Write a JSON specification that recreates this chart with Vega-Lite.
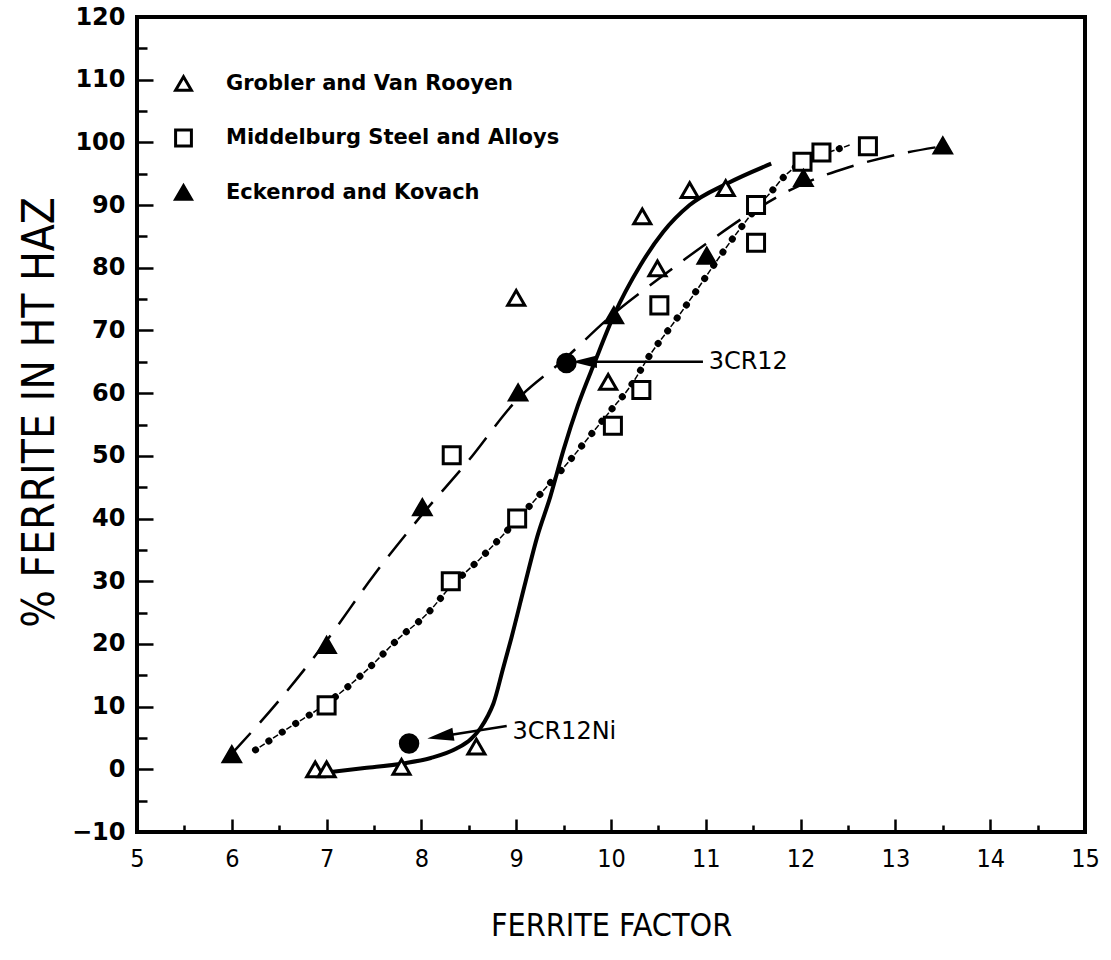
{
  "$schema": "https://vega.github.io/schema/vega-lite/v6.json",
  "width": 948,
  "height": 815,
  "autosize": {"type": "none"},
  "padding": {"left": 137, "top": 17, "right": 26, "bottom": 128},
  "background": "white",
  "config": {
    "view": {"stroke": "black", "strokeWidth": 4},
    "axis": {"domain": false, "grid": false, "tickColor": "black", "tickWidth": 2.5, "labelColor": "black", "titleColor": "black"}
  },
  "resolve": {"axis": {"x": "independent", "y": "independent"}},
  "datasets": {
    "curves": [
      {"curve": "solid", "x": 7.0, "y": -0.5}, {"curve": "solid", "x": 7.4, "y": 0.2}, {"curve": "solid", "x": 7.79, "y": 0.9},
      {"curve": "solid", "x": 8.1, "y": 1.8}, {"curve": "solid", "x": 8.37, "y": 3.3}, {"curve": "solid", "x": 8.52, "y": 4.8},
      {"curve": "solid", "x": 8.62, "y": 6.5}, {"curve": "solid", "x": 8.7, "y": 8.5}, {"curve": "solid", "x": 8.76, "y": 10.5},
      {"curve": "solid", "x": 8.86, "y": 16}, {"curve": "solid", "x": 8.95, "y": 21}, {"curve": "solid", "x": 9.1, "y": 30},
      {"curve": "solid", "x": 9.22, "y": 37}, {"curve": "solid", "x": 9.36, "y": 43.5}, {"curve": "solid", "x": 9.5, "y": 51},
      {"curve": "solid", "x": 9.65, "y": 58}, {"curve": "solid", "x": 9.83, "y": 65}, {"curve": "solid", "x": 10.03, "y": 72.4},
      {"curve": "solid", "x": 10.31, "y": 80.4}, {"curve": "solid", "x": 10.55, "y": 85.7}, {"curve": "solid", "x": 10.83, "y": 90},
      {"curve": "solid", "x": 11.22, "y": 93.4}, {"curve": "solid", "x": 11.69, "y": 96.6},
      {"curve": "dashed", "x": 6.0, "y": 2.5}, {"curve": "dashed", "x": 6.5, "y": 11}, {"curve": "dashed", "x": 7.0, "y": 20.5},
      {"curve": "dashed", "x": 7.5, "y": 31}, {"curve": "dashed", "x": 8.0, "y": 40.5}, {"curve": "dashed", "x": 8.5, "y": 49.3},
      {"curve": "dashed", "x": 9.0, "y": 58.8}, {"curve": "dashed", "x": 9.5, "y": 65.3}, {"curve": "dashed", "x": 10.0, "y": 72.3},
      {"curve": "dashed", "x": 10.5, "y": 78.2}, {"curve": "dashed", "x": 11.0, "y": 83.8}, {"curve": "dashed", "x": 11.5, "y": 89},
      {"curve": "dashed", "x": 12.0, "y": 93.2}, {"curve": "dashed", "x": 12.5, "y": 96}, {"curve": "dashed", "x": 13.0, "y": 98},
      {"curve": "dashed", "x": 13.5, "y": 99.4},
      {"curve": "dotted", "x": 6.25, "y": 3.1}, {"curve": "dotted", "x": 6.6, "y": 6.6}, {"curve": "dotted", "x": 7.0, "y": 10.5},
      {"curve": "dotted", "x": 7.4, "y": 15.5}, {"curve": "dotted", "x": 7.77, "y": 21}, {"curve": "dotted", "x": 8.06, "y": 24.8},
      {"curve": "dotted", "x": 8.3, "y": 29}, {"curve": "dotted", "x": 8.62, "y": 33.6}, {"curve": "dotted", "x": 8.9, "y": 38},
      {"curve": "dotted", "x": 9.2, "y": 43}, {"curve": "dotted", "x": 9.55, "y": 49}, {"curve": "dotted", "x": 9.8, "y": 53.6},
      {"curve": "dotted", "x": 10.0, "y": 57.3}, {"curve": "dotted", "x": 10.2, "y": 61}, {"curve": "dotted", "x": 10.42, "y": 66.3},
      {"curve": "dotted", "x": 10.66, "y": 71.2}, {"curve": "dotted", "x": 10.89, "y": 76.1}, {"curve": "dotted", "x": 11.12, "y": 81.2},
      {"curve": "dotted", "x": 11.35, "y": 86}, {"curve": "dotted", "x": 11.55, "y": 89.8}, {"curve": "dotted", "x": 11.7, "y": 92.3},
      {"curve": "dotted", "x": 11.83, "y": 94.6}, {"curve": "dotted", "x": 12.0, "y": 96.6}, {"curve": "dotted", "x": 12.2, "y": 98},
      {"curve": "dotted", "x": 12.35, "y": 98.7}, {"curve": "dotted", "x": 12.56, "y": 99.8}
    ],
    "points": [
      {"series": "Grobler and Van Rooyen", "x": 6.88, "y": 0}, {"series": "Grobler and Van Rooyen", "x": 7.0, "y": 0},
      {"series": "Grobler and Van Rooyen", "x": 7.79, "y": 0.4}, {"series": "Grobler and Van Rooyen", "x": 8.58, "y": 3.6},
      {"series": "Grobler and Van Rooyen", "x": 9.0, "y": 75.2}, {"series": "Grobler and Van Rooyen", "x": 9.97, "y": 61.8},
      {"series": "Grobler and Van Rooyen", "x": 10.33, "y": 88.2}, {"series": "Grobler and Van Rooyen", "x": 10.49, "y": 79.9},
      {"series": "Grobler and Van Rooyen", "x": 10.83, "y": 92.4}, {"series": "Grobler and Van Rooyen", "x": 11.21, "y": 92.7},
      {"series": "Middelburg Steel and Alloys", "x": 7.0, "y": 10.2}, {"series": "Middelburg Steel and Alloys", "x": 8.31, "y": 30},
      {"series": "Middelburg Steel and Alloys", "x": 8.32, "y": 50.1}, {"series": "Middelburg Steel and Alloys", "x": 9.01, "y": 40},
      {"series": "Middelburg Steel and Alloys", "x": 10.02, "y": 54.8}, {"series": "Middelburg Steel and Alloys", "x": 10.32, "y": 60.5},
      {"series": "Middelburg Steel and Alloys", "x": 10.51, "y": 74}, {"series": "Middelburg Steel and Alloys", "x": 11.53, "y": 84},
      {"series": "Middelburg Steel and Alloys", "x": 11.53, "y": 90}, {"series": "Middelburg Steel and Alloys", "x": 12.02, "y": 96.9},
      {"series": "Middelburg Steel and Alloys", "x": 12.22, "y": 98.4}, {"series": "Middelburg Steel and Alloys", "x": 12.71, "y": 99.4},
      {"series": "Eckenrod and Kovach", "x": 6.0, "y": 2.4}, {"series": "Eckenrod and Kovach", "x": 7.0, "y": 19.8},
      {"series": "Eckenrod and Kovach", "x": 8.01, "y": 41.8}, {"series": "Eckenrod and Kovach", "x": 9.02, "y": 60.1},
      {"series": "Eckenrod and Kovach", "x": 10.03, "y": 72.4}, {"series": "Eckenrod and Kovach", "x": 11.01, "y": 81.9},
      {"series": "Eckenrod and Kovach", "x": 12.03, "y": 94.3}, {"series": "Eckenrod and Kovach", "x": 13.5, "y": 99.5}
    ],
    "alloys": [
      {"alloy": "3CR12", "x": 9.53, "y": 64.8},
      {"alloy": "3CR12Ni", "x": 7.87, "y": 4.1}
    ],
    "arrows": [
      {"alloy": "3CR12", "x": 9.72, "y": 65, "x2": 10.97, "y2": 65},
      {"alloy": "3CR12Ni", "x": 8.2, "y": 5.25, "x2": 8.9, "y2": 6.9}
    ],
    "labels": [
      {"text": "3CR12", "x": 11.03, "y": 65},
      {"text": "3CR12Ni", "x": 8.96, "y": 6.0}
    ]
  },
  "encoding": {
    "x": {"field": "x", "type": "quantitative", "scale": {"domain": [5, 15], "nice": false, "zero": false}, "axis": null},
    "y": {"field": "y", "type": "quantitative", "scale": {"domain": [-10, 120], "nice": false, "zero": false}, "axis": null}
  },
  "layer": [
    {
      "data": {"name": "curves"},
      "transform": [{"filter": "datum.curve === 'dashed'"}],
      "mark": {"type": "line", "color": "black", "strokeWidth": 2.5, "strokeDash": [28, 14], "interpolate": "monotone"},
      "encoding": {
        "x": {
          "field": "x", "type": "quantitative", "scale": {"domain": [5, 15], "nice": false, "zero": false},
          "axis": {
            "orient": "bottom",
            "values": [5, 6, 7, 8, 9, 10, 11, 12, 13, 14, 15],
            "format": "d",
            "ticks": false,
            "tickSize": 0,
            "labelPadding": 14,
            "labelFont": "DejaVu Sans Condensed, DejaVu Sans",
            "labelFontSize": 25,
            "labelFlush": false,
            "title": "FERRITE FACTOR",
            "titleFont": "DejaVu Sans Condensed, DejaVu Sans",
            "titleFontSize": 32,
            "titleFontWeight": "normal",
            "titleX": 474,
            "titleY": 93,
            "titleBaseline": "middle"
          }
        },
        "y": {
          "field": "y", "type": "quantitative", "scale": {"domain": [-10, 120], "nice": false, "zero": false},
          "axis": {
            "orient": "left",
            "values": [-10, 0, 10, 20, 30, 40, 50, 60, 70, 80, 90, 100, 110, 120],
            "ticks": false,
            "tickSize": 0,
            "labelPadding": 12,
            "labelFont": "DejaVu Sans",
            "labelFontSize": 24,
            "labelFontWeight": "bold",
            "labelFlush": false,
            "title": "% FERRITE IN HT HAZ",
            "titleFont": "DejaVu Sans Condensed, DejaVu Sans",
            "titleFontSize": 44,
            "titleFontWeight": "normal",
            "titleX": -97,
            "titleY": 395,
            "titleBaseline": "middle"
          }
        }
      }
    },
    {
      "data": {"name": "curves"},
      "transform": [{"filter": "datum.curve === 'dotted'"}],
      "mark": {"type": "line", "color": "black", "strokeWidth": 1.5, "strokeDash": [6, 10], "strokeDashOffset": -5, "interpolate": "monotone"},
      "encoding": {
        "x": {
          "field": "x", "type": "quantitative", "scale": {"domain": [5, 15], "nice": false, "zero": false},
          "axis": {
            "orient": "top", "offset": -815,
            "values": [5.5, 6.5, 7.5, 8.5, 9.5, 10.5, 11.5, 12.5, 13.5, 14.5],
            "tickSize": 7, "labels": false, "title": null
          }
        },
        "y": {
          "field": "y", "type": "quantitative", "scale": {"domain": [-10, 120], "nice": false, "zero": false},
          "axis": {
            "orient": "right", "offset": -948,
            "values": [-5, 5, 15, 25, 35, 45, 55, 65, 75, 85, 95, 105, 115],
            "tickSize": 10, "labels": false, "title": null
          }
        }
      }
    },
    {
      "data": {"name": "curves"},
      "transform": [{"filter": "datum.curve === 'dotted'"}],
      "mark": {"type": "line", "color": "black", "strokeWidth": 7, "strokeCap": "round", "strokeDash": [0.1, 15.9], "interpolate": "monotone"}
    },
    {
      "data": {"name": "curves"},
      "transform": [{"filter": "datum.curve === 'solid'"}],
      "mark": {"type": "line", "color": "black", "strokeWidth": 4, "interpolate": "monotone"},
      "encoding": {
        "x": {
          "field": "x", "type": "quantitative", "scale": {"domain": [5, 15], "nice": false, "zero": false},
          "axis": {
            "orient": "top", "offset": -815,
            "values": [5, 6, 7, 8, 9, 10, 11, 12, 13, 14, 15],
            "tickSize": 13, "labels": false, "title": null
          }
        },
        "y": {
          "field": "y", "type": "quantitative", "scale": {"domain": [-10, 120], "nice": false, "zero": false},
          "axis": {
            "orient": "right", "offset": -948,
            "values": [-10, 0, 10, 20, 30, 40, 50, 60, 70, 80, 90, 100, 110, 120],
            "tickSize": 16, "labels": false, "title": null
          }
        }
      }
    },
    {
      "data": {"name": "arrows"},
      "mark": {"type": "rule", "color": "black", "strokeWidth": 2.5},
      "encoding": {"x2": {"field": "x2"}, "y2": {"field": "y2"}}
    },
    {
      "data": {"name": "arrows"},
      "transform": [{"filter": "datum.alloy === '3CR12'"}],
      "mark": {"type": "point", "shape": "M -1 0 L 1 -0.5 L 1 0.5 Z", "filled": true, "color": "black", "size": 625, "opacity": 1}
    },
    {
      "data": {"name": "arrows"},
      "transform": [{"filter": "datum.alloy === '3CR12Ni'"}],
      "mark": {"type": "point", "shape": "M -1 0 L 1 -0.5 L 1 0.5 Z", "filled": true, "color": "black", "size": 700, "angle": -9, "opacity": 1}
    },
    {
      "data": {"name": "alloys"},
      "mark": {"type": "point", "shape": "circle", "filled": true, "color": "black", "size": 420, "opacity": 1}
    },
    {
      "data": {"name": "labels"},
      "mark": {"type": "text", "align": "left", "baseline": "middle", "font": "DejaVu Sans", "fontSize": 24, "color": "black"},
      "encoding": {"text": {"field": "text"}}
    },
    {
      "data": {"name": "points"},
      "mark": {"type": "point", "filled": true, "strokeWidth": 3, "size": 290, "opacity": 1},
      "encoding": {
        "shape": {
          "field": "series", "type": "nominal",
          "scale": {"domain": ["Grobler and Van Rooyen", "Middelburg Steel and Alloys", "Eckenrod and Kovach"], "range": ["triangle-up", "square", "triangle-up"]},
          "legend": {
            "title": null, "orient": "none", "legendX": 36, "legendY": 56, "padding": 0,
            "rowPadding": 26.5, "labelOffset": 32, "labelFont": "DejaVu Sans", "labelFontSize": 21,
            "labelFontWeight": "bold", "labelColor": "black", "labelLimit": 500, "symbolSize": 250,
            "symbolStrokeWidth": 3, "symbolOpacity": 1
          }
        },
        "fill": {
          "field": "series", "type": "nominal",
          "scale": {"domain": ["Grobler and Van Rooyen", "Middelburg Steel and Alloys", "Eckenrod and Kovach"], "range": ["white", "white", "black"]}
        },
        "stroke": {
          "field": "series", "type": "nominal",
          "scale": {"domain": ["Grobler and Van Rooyen", "Middelburg Steel and Alloys", "Eckenrod and Kovach"], "range": ["black", "black", "black"]}
        }
      }
    }
  ]
}
